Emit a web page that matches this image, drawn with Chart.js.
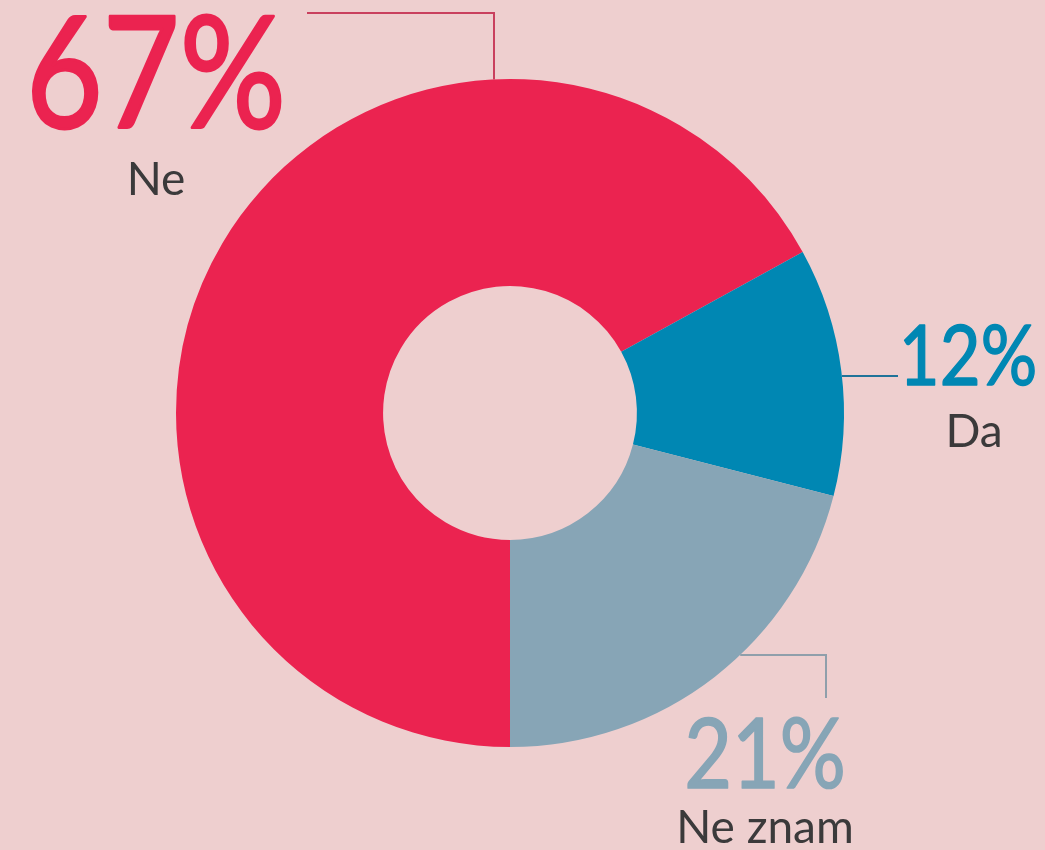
<!DOCTYPE html>
<html>
<head>
<meta charset="utf-8">
<script src="https://cdn.jsdelivr.net/npm/chart.js@4"></script>
<style>
  html, body { margin: 0; padding: 0; background: #eecfcf; }
  #wrap { width: 1045px; height: 850px; position: relative; }
</style>
</head>
<body>
<div id="wrap"><canvas id="chart"></canvas></div>
<script>
// Podaci
const labels = ['Ne', 'Da', 'Ne znam'];
const values = [67, 12, 21];
const colors = ['#eb2350', '#0087b3', '#87a5b6'];
const lineColors = ['#c9405e', '#1f7399', '#8f9fab'];

// Oznake: položaj teksta i linije do prstena
const callouts = [
  { x: 156, y: 128, size: 156, sub: 67, path: [[307, 13], [494, 13]], end: 'top' },
  { x: 968, y: 385, size: 83, sub: 62, path: [[898, 376]], end: 'right' },
  { x: 765, y: 788, size: 97, sub: 55, path: [[826, 698], [826, 655]], end: 'bottom' },
];

const calloutPlugin = {
  id: 'callouts',
  afterDatasetsDraw(chart) {
    const { ctx } = chart;
    const arc = chart.getDatasetMeta(0).data[0];
    const cx = arc.x, cy = arc.y, r = arc.outerRadius;
    ctx.save();
    callouts.forEach((c, i) => {
      // linija do ruba prstena
      const pts = c.path.slice();
      const last = pts[pts.length - 1];
      const ep = c.end === 'top'
        ? [last[0], cy - Math.sqrt(r * r - (last[0] - cx) ** 2)]
        : [cx + Math.sqrt(r * r - (last[1] - cy) ** 2), last[1]];
      pts.push(ep);
      ctx.strokeStyle = lineColors[i];
      ctx.lineWidth = 2;
      ctx.beginPath();
      ctx.moveTo(pts[0][0], pts[0][1]);
      pts.slice(1).forEach((p) => ctx.lineTo(p[0], p[1]));
      ctx.stroke();

      // postotak (malo sužen i podebljan, font originala je uži)
      ctx.textAlign = 'center';
      ctx.textBaseline = 'alphabetic';
      ctx.save();
      ctx.translate(c.x, c.y);
      ctx.scale(0.85, 1);
      ctx.fillStyle = colors[i];
      ctx.strokeStyle = colors[i];
      ctx.lineWidth = c.size * 0.018;
      ctx.lineJoin = 'round';
      ctx.font = `400 ${c.size}px Lato`;
      ctx.fillText(`${values[i]}%`, 0, 0);
      ctx.strokeText(`${values[i]}%`, 0, 0);
      ctx.restore();

      ctx.fillStyle = '#3b3a3b';
      ctx.font = '400 46px Lato';
      ctx.fillText(labels[i], c.x + (i === 1 ? 6 : 0), c.y + c.sub);
    });
    ctx.restore();
  },
};

new Chart(document.getElementById('chart'), {
  type: 'doughnut',
  data: {
    labels,
    datasets: [{ data: values, backgroundColor: colors, borderWidth: 0, hoverOffset: 0 }],
  },
  options: {
    responsive: true,
    maintainAspectRatio: false,
    animation: false,
    rotation: 180,
    cutout: '38%',
    layout: { padding: { left: 176, right: 201, top: 79, bottom: 103 } },
    plugins: { legend: { display: false }, tooltip: { enabled: false } },
  },
  plugins: [calloutPlugin],
});
</script>
</body>
</html>
